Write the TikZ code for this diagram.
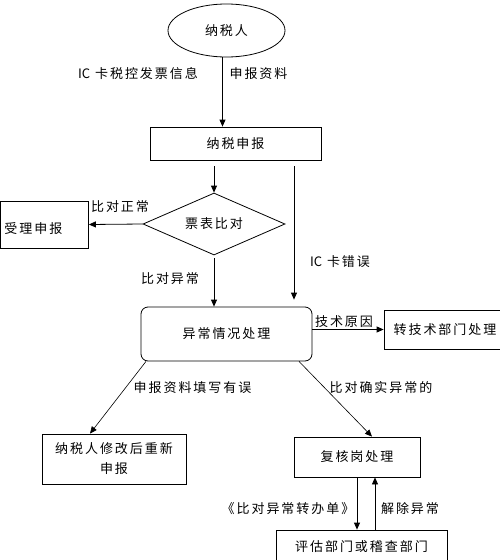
\documentclass[tikz,border=0pt]{standalone}
\usepackage{fontspec}
\newfontfamily\cjk[LetterSpace=15]{Noto Sans CJK SC}
\newfontfamily\cjkn{Noto Sans CJK SC}
\usetikzlibrary{shapes.geometric,arrows.meta}
\tikzset{
  base/.style={font=\cjk\fontsize{13}{20}\selectfont, inner sep=0pt},
  box/.style={base, draw, line width=0.8pt, align=center},
  lbl/.style={base},
  arr/.style={line width=0.8pt, -{Triangle[length=7pt,width=6pt]}},
  ln/.style={line width=0.6pt, -{Triangle[length=7pt,width=6pt]}},
}
\begin{document}
\begin{tikzpicture}[x=1pt,y=-1pt]
\useasboundingbox (0,0) rectangle (499,560);
% nodes
\node[box, ellipse, minimum width=117pt, minimum height=53pt] (ell) at (226.5,30.5) {纳税人};
\node[box, minimum width=171pt, minimum height=33pt] (decl) at (235.5,143.5) {纳税申报};
\node[box, diamond, aspect=2.3, minimum width=142pt, minimum height=62pt] (dia) at (214,224) {票表比对};
\node[box, align=left, text width=80pt, inner xsep=4pt, text height=20pt, text depth=2pt, minimum height=47pt] (accept) at (44.5,224.5) {受理申报};
\node[box, rounded corners=7pt, minimum width=171pt, minimum height=54pt] (abn) at (226.5,334) {异常情况处理};
\node[box, minimum width=122pt, minimum height=39pt] (tech) at (445,329.5) {转技术部门处理};
\node[box, minimum width=144pt, minimum height=50pt] (redo) at (114,459) {纳税人修改后重新\\申报};
\node[box, minimum width=126pt, minimum height=40pt] (review) at (357,457) {复核岗处理};
\node[box, minimum width=171pt, minimum height=34pt] (dept) at (361.5,547) {评估部门或稽查部门};
% labels
\node[lbl] (l1) at (138,74) {{\cjkn IC} 卡税控发票信息};
\node[lbl] (l2) at (258.5,74) {申报资料};
\node[lbl] (l3) at (120,207) {比对正常};
\node[lbl] (l4) at (170,279) {比对异常};
\node[lbl] (l5) at (340,262) {{\cjkn IC} 卡错误};
\node[lbl] (l6) at (344,322) {技术原因};
\node[lbl] (l7) at (192.5,388) {申报资料填写有误};
\node[lbl] (l8) at (381,388) {比对确实异常的};
\node[lbl] (l9) at (288,509) {《比对异常转办单》};
\node[lbl] (l10) at (410,509) {解除异常};
% connectors
\draw[arr] ([xshift=-4pt]ell.south) -- ([xshift=-4pt]ell.south |- decl.north);
\draw[arr] ([yshift=-6pt]decl.south -| dia.north) -- (dia.north);
\draw[arr] ([xshift=58.5pt,yshift=-6pt]decl.south) -- ([xshift=67.5pt,yshift=7pt]abn.north);
\draw[arr] (dia.west) -- (accept.east);
\draw[arr] ([yshift=-3pt]dia.south) -- (dia.south |- abn.north);
\draw[arr] (abn.east |- tech.west) -- (tech.west);
\draw[ln] ([xshift=-80.5pt]abn.south) -- ([xshift=-24pt]redo.north);
\draw[ln] ([xshift=72.5pt]abn.south) -- ([xshift=15pt]review.north);
\draw[arr] (review.south) -- (review.south |- dept.north);
\draw[arr] ([xshift=18pt]review.south |- dept.north) -- ([xshift=18pt]review.south);
\end{tikzpicture}
\end{document}
